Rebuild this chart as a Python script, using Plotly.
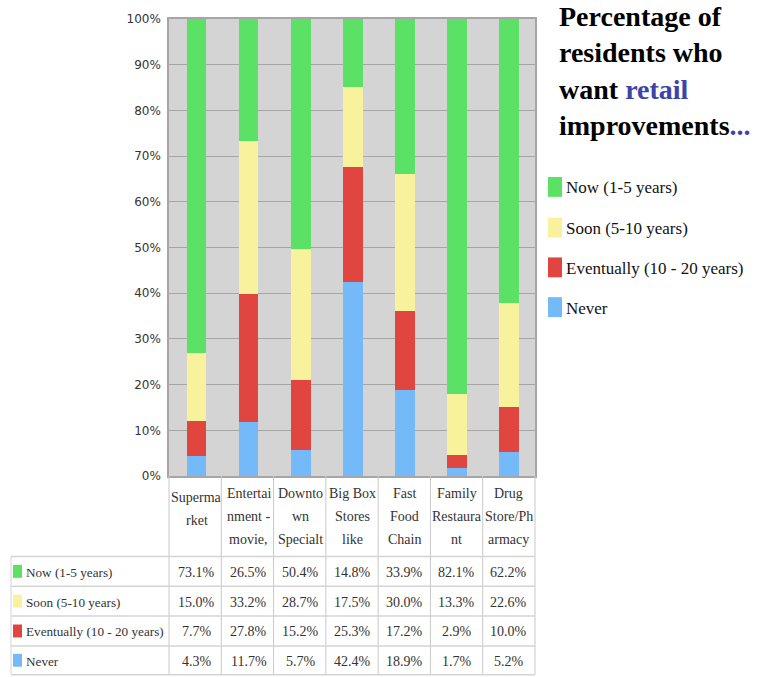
import plotly.graph_objects as go

# ---- data -------------------------------------------------------------
categories = [
    "Supermarket", "Entertainment - movie,", "Downtown Specialt",
    "Big Box Stores like", "Fast Food Chain", "Family Restaurant",
    "Drug Store/Pharmacy",
]
# column headings as they wrap inside the table header
header_lines = [
    ["Superma", "rket"],
    ["Entertai", "nment -", "movie,"],
    ["Downto", "wn", "Specialt"],
    ["Big Box", "Stores", "like"],
    ["Fast", "Food", "Chain"],
    ["Family", "Restaura", "nt"],
    ["Drug", "Store/Ph", "armacy"],
]

series_names = ["Now (1-5 years)", "Soon (5-10 years)",
                "Eventually (10 - 20 years)", "Never"]
now = [73.1, 26.5, 50.4, 14.8, 33.9, 82.1, 62.2]
soon = [15.0, 33.2, 28.7, 17.5, 30.0, 13.3, 22.6]
eventually = [7.7, 27.8, 15.2, 25.3, 17.2, 2.9, 10.0]
never = [4.3, 11.7, 5.7, 42.4, 18.9, 1.7, 5.2]
series_values = [now, soon, eventually, never]
series_colors = ["#5ce167", "#f8f29d", "#e0463f", "#74b9f8"]

y_ticks = [0, 10, 20, 30, 40, 50, 60, 70, 80, 90, 100]
y_tick_labels = ["0%", "10%", "20%", "30%", "40%", "50%",
                 "60%", "70%", "80%", "90%", "100%"]

# ---- geometry helpers (figure pixels -> paper fractions) ---------------
W, H = 762, 677
L, R, T, B = 169, 535, 16, 476


def px_x(p):
    return (p - L) / (R - L)


def px_y(p):
    return (B - p) / (B - T)


SERIF = "Liberation Serif"
TEXT = "#333333"
GRID = "#a6a6a6"
TABLE_LINE = "#d4d4d4"

fig = go.Figure()

# stacked bars, drawn bottom-up (Never first)
for name, vals, col in reversed(list(zip(series_names, series_values, series_colors))):
    fig.add_trace(go.Bar(
        x=categories, y=vals, name=name, marker_color=col,
        marker_line_width=0, showlegend=False,
    ))

shapes = []
annotations = []

# ---- data table under the chart --------------------------------------
n = len(categories)
header_top = 476
row_edges = [557, 587, 617, 647, 676]
label_left = 11

# vertical separators between category columns
for i in range(n + 1):
    shapes.append(dict(type="line", xref="paper", yref="paper",
                       x0=i / n, x1=i / n, y0=px_y(header_top), y1=px_y(row_edges[-1]),
                       line=dict(color="#c8c8c8", width=1)))
# left edge of the row-label column
shapes.append(dict(type="line", xref="paper", yref="paper",
                   x0=px_x(label_left), x1=px_x(label_left),
                   y0=px_y(row_edges[0]), y1=px_y(row_edges[-1]),
                   line=dict(color=TABLE_LINE, width=1)))
# horizontal row lines
for ry in row_edges:
    shapes.append(dict(type="line", xref="paper", yref="paper",
                       x0=px_x(label_left), x1=1, y0=px_y(ry), y1=px_y(ry),
                       line=dict(color=TABLE_LINE, width=1.5)))

# header text, one line per annotation for the taller line spacing
for cat, lines in zip(categories, header_lines):
    top = 494 if len(lines) == 3 else 498
    for k, ln in enumerate(lines):
        annotations.append(dict(
            x=cat, xref="x", y=px_y(top + 23 * k),
            yref="paper", text=ln, showarrow=False, xanchor="center", yanchor="middle",
            font=dict(family=SERIF, size=14, color=TEXT)))

# table rows: swatch, series name and values
for r, (name, vals, col) in enumerate(zip(series_names, series_values, series_colors)):
    cy = (row_edges[r] + row_edges[r + 1]) / 2
    shapes.append(dict(type="rect", xref="paper", yref="paper",
                       x0=px_x(13), x1=px_x(22), y0=px_y(cy - 6.5), y1=px_y(cy + 6.5),
                       fillcolor=col, line=dict(width=0)))
    annotations.append(dict(
        x=px_x(24), xref="paper", y=px_y(cy + 1), yref="paper", text=name,
        showarrow=False, xanchor="left", yanchor="middle",
        font=dict(family=SERIF, size=13.2, color=TEXT)))
    for cat, v in zip(categories, vals):
        annotations.append(dict(
            x=cat, xref="x", y=px_y(cy + 1), yref="paper", text=f"{v:.1f}%",
            showarrow=False, xanchor="center", yanchor="middle",
            font=dict(family=SERIF, size=14, color=TEXT)))

# ---- legend on the right --------------------------------------------
legend_centers = [185, 226, 266, 306]
for name, col, cy in zip(series_names, series_colors, legend_centers):
    shapes.append(dict(type="rect", xref="paper", yref="paper",
                       x0=px_x(548), x1=px_x(562), y0=px_y(cy - 10), y1=px_y(cy + 10),
                       fillcolor=col, line=dict(width=0)))
    annotations.append(dict(
        x=px_x(564), xref="paper", y=px_y(cy + 1), yref="paper", text=name,
        showarrow=False, xanchor="left", yanchor="middle",
        font=dict(family=SERIF, size=17, color="#111111")))

# ---- title ------------------------------------------------------------
BLUE = "#3c44aa"
annotations.append(dict(
    x=px_x(557), xref="paper", y=px_y(-4), yref="paper", xanchor="left", yanchor="top",
    align="left", showarrow=False,
    text=("<b>Percentage of<br>residents who<br>want "
          f"<span style='color:{BLUE}'>retail</span><br>improvements"
          f"<span style='color:{BLUE}'>...</span></b>"),
    font=dict(family=SERIF, size=28, color="#000000")))

fig.update_layout(
    width=W, height=H,
    margin=dict(l=L, r=W - R, t=T, b=H - B, pad=0),
    paper_bgcolor="white", plot_bgcolor="#d4d4d4",
    barmode="stack", barnorm="percent", bargap=0.62,
    showlegend=False,
    shapes=shapes, annotations=annotations,
    xaxis=dict(showticklabels=False, showgrid=False, showline=True, mirror=True,
               linecolor=GRID, linewidth=1.5, ticks=""),
    yaxis=dict(range=[0, 100], tickmode="array", tickvals=y_ticks, ticktext=y_tick_labels,
               showgrid=True, gridcolor=GRID, gridwidth=1,
               showline=True, mirror=True, linecolor=GRID, linewidth=1.5,
               ticks="outside", ticklen=4, tickcolor="rgba(0,0,0,0)",
               zeroline=False,
               tickfont=dict(family="DejaVu Sans", size=12, color=TEXT)),
)

fig.write_html("out.html")
